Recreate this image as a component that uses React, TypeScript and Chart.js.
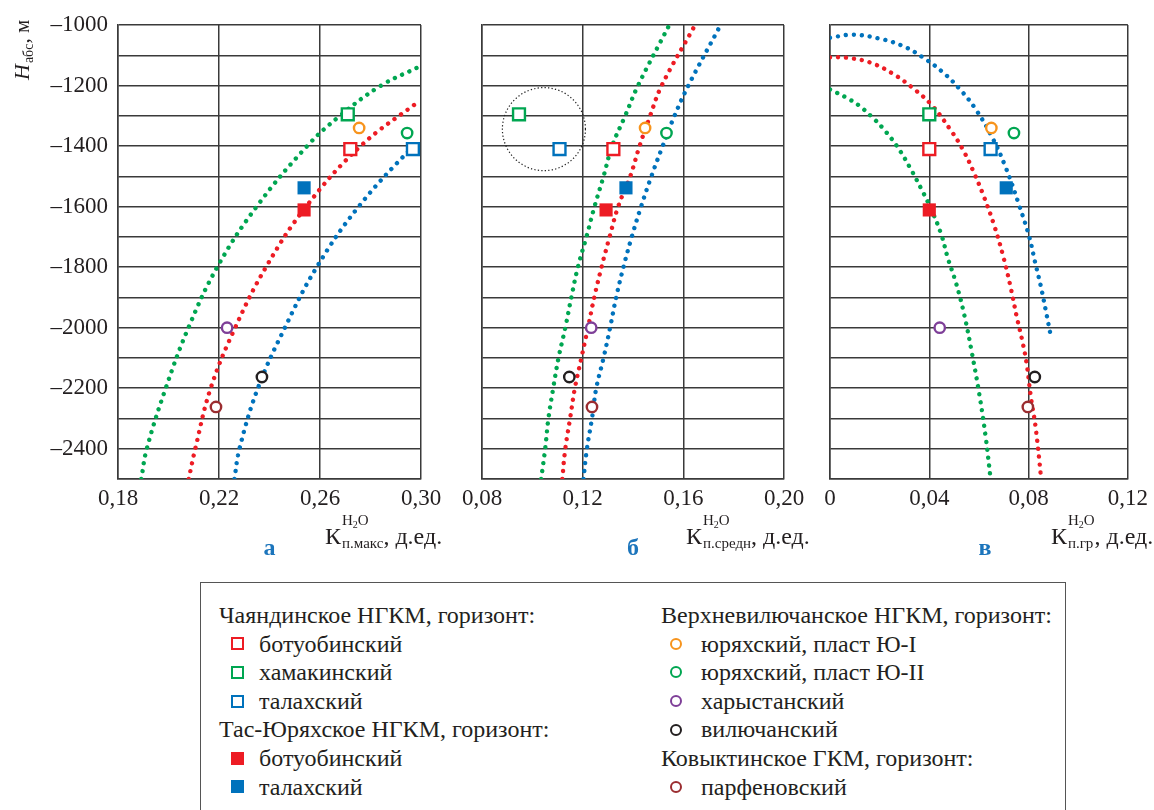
import React, { useEffect, useRef } from 'react';
import { Chart, registerables } from 'chart.js';

Chart.register(...registerables);

// ---------- data ----------
const DEPTH_TICKS = [-2500, -2400, -2300, -2200, -2100, -2000, -1900, -1800, -1700, -1600, -1500, -1400, -1300, -1200, -1100, -1000];
const X_TICKS_A = [0.18, 0.22, 0.26, 0.3];
const X_TICKS_B = [0.08, 0.12, 0.16, 0.2];
const X_TICKS_C = [0, 0.04, 0.08, 0.12];

// point order: Чаянд. ботуоб., Чаянд. хамак., Чаянд. талах., Тас-Юр. ботуоб., Тас-Юр. талах.,
// Ю-I, Ю-II, харыстанский, вилючанский, парфеновский
const H_ABS = [-1410, -1295, -1410, -1611, -1538, -1340, -1357, -2000, -2163, -2262];
const K_MAX = [0.272, 0.271, 0.2968, 0.2537, 0.2537, 0.2755, 0.2945, 0.2232, 0.237, 0.2188];
const K_MEAN = [0.1322, 0.0947, 0.1108, 0.1293, 0.1372, 0.1448, 0.1533, 0.1234, 0.1147, 0.1237];
const K_GR = [0.04, 0.04, 0.0647, 0.04, 0.071, 0.065, 0.0741, 0.0442, 0.0825, 0.0797];

// panel а trend curves
const A_GREEN_X = [0.1892, 0.1914, 0.1989, 0.2079, 0.2193, 0.2349, 0.2549, 0.2679, 0.2842, 0.299];
const A_GREEN_Y = [-2500, -2400, -2200, -2000, -1800, -1600, -1400, -1300, -1200, -1139];
const A_RED_X = [0.208, 0.2106, 0.2167, 0.2264, 0.2386, 0.2545, 0.2761, 0.2995];
const A_RED_Y = [-2500, -2400, -2200, -2000, -1800, -1600, -1400, -1250];
const A_BLUE_X = [0.2261, 0.2281, 0.2354, 0.2461, 0.2587, 0.2753, 0.297, 0.2995];
const A_BLUE_Y = [-2500, -2400, -2200, -2000, -1800, -1600, -1400, -1390];

// panel б trend curves
const B_GREEN_X = [0.1035, 0.1051, 0.1064, 0.1083, 0.1104, 0.1131, 0.1155, 0.1181, 0.1215, 0.1247, 0.1283, 0.1317, 0.1369, 0.142, 0.1541];
const B_GREEN_Y = [-2500, -2400, -2300, -2200, -2100, -2000, -1900, -1800, -1700, -1600, -1500, -1400, -1300, -1200, -1005];
const B_RED_X = [0.1119, 0.1131, 0.115, 0.1169, 0.1195, 0.1221, 0.1246, 0.1275, 0.1307, 0.1341, 0.1389, 0.1426, 0.1468, 0.1514, 0.164];
const B_RED_Y = [-2500, -2400, -2300, -2200, -2100, -2000, -1900, -1800, -1700, -1600, -1500, -1400, -1300, -1200, -1010];
const B_BLUE_X = [0.1203, 0.1217, 0.1237, 0.1254, 0.1283, 0.1309, 0.1333, 0.1362, 0.1395, 0.1432, 0.1473, 0.1518, 0.1565, 0.162, 0.1739];
const B_BLUE_Y = [-2500, -2400, -2300, -2200, -2100, -2000, -1900, -1800, -1700, -1600, -1500, -1400, -1300, -1200, -1014];

// panel в trend curves
const C_BLUE_X = [0, 0.0092, 0.0194, 0.029, 0.0374, 0.0453, 0.0524, 0.0585, 0.0652, 0.0708, 0.0763, 0.0803, 0.0826, 0.0849, 0.0869, 0.0888];
const C_BLUE_Y = [-1042, -1032, -1044, -1068, -1107, -1155, -1213, -1276, -1369, -1471, -1598, -1701, -1783, -1862, -1942, -2021];
const C_RED_X = [0, 0.0066, 0.0162, 0.0251, 0.033, 0.0409, 0.0486, 0.0537, 0.0581, 0.0619, 0.0663, 0.07, 0.073, 0.0752, 0.0774, 0.0792, 0.0809, 0.0828, 0.0851];
const C_RED_Y = [-1107, -1108, -1124, -1160, -1206, -1264, -1347, -1414, -1490, -1565, -1666, -1771, -1875, -1963, -2041, -2118, -2228, -2327, -2500];
const C_GREEN_X = [0, 0.0059, 0.0115, 0.0165, 0.0211, 0.0271, 0.0324, 0.037, 0.0412, 0.0449, 0.0475, 0.0508, 0.0541, 0.0572, 0.0601, 0.0627, 0.0647];
const C_GREEN_Y = [-1213, -1237, -1265, -1301, -1339, -1402, -1474, -1545, -1617, -1694, -1771, -1853, -1958, -2085, -2217, -2360, -2500];

// dotted circle (panel б)
const CIRCLE_CENTER = { x: 0.1046, y: -1344 };
const CIRCLE_RADIUS_X = 0.0165;

// ---------- styles ----------
const RED = '#ED1C24';
const GREEN = '#00A651';
const BLUE = '#0072BC';
const ORANGE = '#F7941D';
const PURPLE = '#7E3F98';
const BLACK = '#231F20';
const BROWN = '#9B2D30';
const GRID = '#3a3a3a';
const TEXT = '#231F20';
const SERIF = "'Liberation Serif', 'DejaVu Serif', 'Noto Serif', serif";

type Marker = 'hollow' | 'filled' | 'circle';
const POINT_COLORS = [RED, GREEN, BLUE, RED, BLUE, ORANGE, GREEN, PURPLE, BLACK, BROWN];
const POINT_KINDS: Marker[] = ['hollow', 'hollow', 'hollow', 'filled', 'filled', 'circle', 'circle', 'circle', 'circle', 'circle'];

const W = 1154;
const H = 560;

type Panel = {
  xMin: number; xMax: number; xTicks: number[]; xs: number[];
  curves: { x: number[]; y: number[]; color: string }[];
  left: number; right: number; showY: boolean;
  sub: string; kOffset: number; letter: string; letterOffset: number;
  circle?: boolean;
};

const PANELS: Panel[] = [
  {
    xMin: 0.18, xMax: 0.3, xTicks: X_TICKS_A, xs: K_MAX,
    curves: [
      { x: A_GREEN_X, y: A_GREEN_Y, color: GREEN },
      { x: A_RED_X, y: A_RED_Y, color: RED },
      { x: A_BLUE_X, y: A_BLUE_Y, color: BLUE },
    ],
    left: 118, right: 421, showY: true, sub: 'п.макс', kOffset: -96, letter: 'а', letterOffset: 0,
  },
  {
    xMin: 0.08, xMax: 0.2, xTicks: X_TICKS_B, xs: K_MEAN,
    curves: [
      { x: B_GREEN_X, y: B_GREEN_Y, color: GREEN },
      { x: B_RED_X, y: B_RED_Y, color: RED },
      { x: B_BLUE_X, y: B_BLUE_Y, color: BLUE },
    ],
    left: 482, right: 784, showY: false, sub: 'п.средн', kOffset: -98, letter: 'б', letterOffset: 0, circle: true,
  },
  {
    xMin: 0, xMax: 0.12, xTicks: X_TICKS_C, xs: K_GR,
    curves: [
      { x: C_GREEN_X, y: C_GREEN_Y, color: GREEN },
      { x: C_RED_X, y: C_RED_Y, color: RED },
      { x: C_BLUE_X, y: C_BLUE_Y, color: BLUE },
    ],
    left: 830, right: 1133, showY: false, sub: 'п.гр', kOffset: -77, letter: 'в', letterOffset: 6,
  },
];

function fmtX(v: number) {
  return v === 0 ? '0' : v.toFixed(2).replace('.', ',');
}

function makeAnnotPlugin(p: Panel) {
  return {
    id: 'annot',
    afterDraw(chart: any) {
      const ctx = chart.ctx as CanvasRenderingContext2D;
      const area = chart.chartArea;
      ctx.save();
      ctx.fillStyle = TEXT;
      ctx.textAlign = 'left';
      ctx.textBaseline = 'alphabetic';
      // x-axis title
      const base = 544;
      let x = area.right + p.kOffset;
      ctx.font = `24px ${SERIF}`;
      ctx.fillText('К', x, base);
      x += ctx.measureText('К').width + 1;
      let sx = x;
      ctx.font = `15px ${SERIF}`;
      ctx.fillText('H', sx, base - 19);
      sx += ctx.measureText('H').width;
      ctx.font = `10px ${SERIF}`;
      ctx.fillText('2', sx, base - 16);
      sx += ctx.measureText('2').width;
      ctx.font = `15px ${SERIF}`;
      ctx.fillText('O', sx, base - 19);
      sx += ctx.measureText('O').width;
      ctx.fillText(p.sub, x, base + 4);
      const subEnd = x + ctx.measureText(p.sub).width;
      x = Math.max(sx, subEnd);
      ctx.font = `24px ${SERIF}`;
      ctx.fillText(', д.ед.', x, base);
      // panel letter
      ctx.font = `bold 24px ${SERIF}`;
      ctx.fillStyle = '#1C75BC';
      ctx.textAlign = 'center';
      ctx.fillText(p.letter, (area.left + area.right) / 2 + p.letterOffset, 555);
      ctx.textAlign = 'left';
      ctx.fillStyle = TEXT;
      // y-axis title
      if (p.showY) {
        ctx.save();
        ctx.translate(29, 80);
        ctx.rotate(-Math.PI / 2);
        let t = 0;
        ctx.font = `italic 22px ${SERIF}`;
        ctx.fillText('H', t, 0);
        t += ctx.measureText('H').width + 1;
        ctx.font = `14px ${SERIF}`;
        ctx.fillText('абс', t, 4);
        t += ctx.measureText('абс').width;
        ctx.font = `21px ${SERIF}`;
        ctx.fillText(', м', t, 0);
        ctx.restore();
      }
      // dotted circle
      if (p.circle) {
        const xs = chart.scales.x;
        const ys = chart.scales.y;
        const cx = xs.getPixelForValue(CIRCLE_CENTER.x);
        const cy = ys.getPixelForValue(CIRCLE_CENTER.y);
        const r = xs.getPixelForValue(CIRCLE_CENTER.x + CIRCLE_RADIUS_X) - cx;
        ctx.beginPath();
        ctx.setLineDash([1.3, 2.2]);
        ctx.lineWidth = 1.2;
        ctx.strokeStyle = '#222';
        ctx.arc(cx, cy, r, 0, Math.PI * 2);
        ctx.stroke();
      }
      ctx.restore();
    },
  };
}

function buildChart(canvas: HTMLCanvasElement, p: Panel) {
  const pointSets = p.xs.map((xv, i) => {
    const kind = POINT_KINDS[i];
    const color = POINT_COLORS[i];
    return {
      type: 'scatter' as const,
      data: [{ x: xv, y: H_ABS[i] }],
      pointStyle: kind === 'circle' ? 'circle' : 'rect',
      pointRadius: kind === 'circle' ? 5.2 : kind === 'filled' ? 9.3 : 8.4,
      pointBorderWidth: kind === 'filled' ? 0 : 2.4,
      pointBorderColor: color,
      pointBackgroundColor: kind === 'filled' ? color : '#ffffff',
      showLine: false,
      clip: false as any,
      order: 0,
    };
  });
  const curveSets = p.curves.map((c) => ({
    type: 'line' as const,
    data: c.x.map((xv, i) => ({ x: xv, y: c.y[i] })),
    borderColor: c.color,
    borderWidth: 4.4,
    borderDash: [0.01, 8],
    borderCapStyle: 'round' as const,
    pointRadius: 0,
    tension: 0.4,
    fill: false,
    order: 1,
  }));
  return new Chart(canvas, {
    type: 'scatter',
    data: { datasets: [...pointSets, ...curveSets] as any },
    options: {
      animation: false,
      responsive: false,
      maintainAspectRatio: false,
      layout: { padding: { left: p.showY ? 0 : p.left, right: W - p.right, top: 25, bottom: 0 } },
      plugins: { legend: { display: false }, tooltip: { enabled: false } },
      scales: {
        x: {
          type: 'linear',
          min: p.xMin,
          max: p.xMax,
          afterBuildTicks: (s: any) => { s.ticks = p.xTicks.map((v) => ({ value: v })); },
          afterFit: (s: any) => { s.height = H - 479; },
          grid: { color: GRID, lineWidth: 1.5, drawTicks: false },
          border: { color: GRID, width: 1.5 },
          ticks: {
            autoSkip: false,
            maxRotation: 0,
            padding: 6,
            color: TEXT,
            font: { family: SERIF, size: 23 },
            callback: (v: any) => fmtX(Number(v)),
          },
        },
        y: {
          type: 'linear',
          min: -2500,
          max: -1000,
          afterBuildTicks: (s: any) => { s.ticks = DEPTH_TICKS.map((v) => ({ value: v })); },
          afterFit: (s: any) => { s.width = p.showY ? p.left : 0; },
          grid: { color: GRID, lineWidth: 1.5, drawTicks: false },
          border: { color: GRID, width: 1.5 },
          ticks: {
            display: p.showY,
            autoSkip: false,
            padding: 10,
            color: TEXT,
            font: { family: SERIF, size: 23 },
            callback: (v: any) => (Number(v) % 200 === 0 ? '–' + Math.abs(Number(v)) : ''),
          },
        },
      },
    } as any,
    plugins: [makeAnnotPlugin(p)],
  });
}

type LegendItem = { kind: Marker | 'header'; color?: string; text: string };
const LEGEND_LEFT: LegendItem[] = [
  { kind: 'header', text: 'Чаяндинское НГКМ, горизонт:' },
  { kind: 'hollow', color: RED, text: 'ботуобинский' },
  { kind: 'hollow', color: GREEN, text: 'хамакинский' },
  { kind: 'hollow', color: BLUE, text: 'талахский' },
  { kind: 'header', text: 'Тас-Юряхское НГКМ, горизонт:' },
  { kind: 'filled', color: RED, text: 'ботуобинский' },
  { kind: 'filled', color: BLUE, text: 'талахский' },
];
const LEGEND_RIGHT: LegendItem[] = [
  { kind: 'header', text: 'Верхневилючанское НГКМ, горизонт:' },
  { kind: 'circle', color: ORANGE, text: 'юряхский, пласт Ю-I' },
  { kind: 'circle', color: GREEN, text: 'юряхский, пласт Ю-II' },
  { kind: 'circle', color: PURPLE, text: 'харыстанский' },
  { kind: 'circle', color: BLACK, text: 'вилючанский' },
  { kind: 'header', text: 'Ковыктинское ГКМ, горизонт:' },
  { kind: 'circle', color: BROWN, text: 'парфеновский' },
];

function MarkerBox({ kind, color }: { kind: Marker; color: string }) {
  const base: React.CSSProperties = { position: 'absolute', boxSizing: 'border-box', top: '50%' };
  if (kind === 'hollow') {
    return <span style={{ ...base, width: 13, height: 13, marginTop: -6.5, left: -6.5, border: `2.6px solid ${color}`, background: '#fff' }} />;
  }
  if (kind === 'filled') {
    return <span style={{ ...base, width: 13, height: 13, marginTop: -6.5, left: -6.5, background: color }} />;
  }
  return <span style={{ ...base, width: 12, height: 12, marginTop: -6, left: -6, border: `2.6px solid ${color}`, borderRadius: '50%' }} />;
}

function LegendColumn({ items, left, markerX, textX }: { items: LegendItem[]; left: number; markerX: number; textX: number }) {
  return (
    <div style={{ position: 'absolute', left: 0, top: 18, width: '100%' }}>
      {items.map((it, i) => (
        <div key={i} style={{ position: 'absolute', top: i * 28.6, height: 28.6, left: 0, width: 420, lineHeight: '28.6px' }}>
          {it.kind === 'header' ? (
            <span style={{ position: 'absolute', left, whiteSpace: 'nowrap' }}>{it.text}</span>
          ) : (
            <>
              <span style={{ position: 'absolute', left: markerX, top: 0, height: '100%' }}>
                <MarkerBox kind={it.kind as Marker} color={it.color as string} />
              </span>
              <span style={{ position: 'absolute', left: textX, whiteSpace: 'nowrap' }}>{it.text}</span>
            </>
          )}
        </div>
      ))}
    </div>
  );
}

export default function App() {
  const refA = useRef<HTMLCanvasElement>(null);
  const refB = useRef<HTMLCanvasElement>(null);
  const refC = useRef<HTMLCanvasElement>(null);

  useEffect(() => {
    const canvases = [refA.current, refB.current, refC.current];
    const charts = canvases.map((c, i) => buildChart(c as HTMLCanvasElement, PANELS[i]));
    return () => charts.forEach((ch) => ch.destroy());
  }, []);

  const canvasStyle: React.CSSProperties = { position: 'absolute', left: 0, top: 0, width: W, height: H };

  return (
    <div style={{ position: 'absolute', left: 0, top: 0, width: W, height: 810, overflow: 'hidden', background: '#fff', fontFamily: SERIF, color: TEXT }}>
      <canvas ref={refA} width={W} height={H} style={canvasStyle} />
      <canvas ref={refB} width={W} height={H} style={canvasStyle} />
      <canvas ref={refC} width={W} height={H} style={canvasStyle} />
      <div style={{ position: 'absolute', left: 200, top: 582, width: 866, height: 260, border: '1.5px solid #555', boxSizing: 'border-box', fontSize: 24 }}>
        <div style={{ position: 'absolute', left: 0, top: 0, width: 430, height: '100%' }}>
          <LegendColumn items={LEGEND_LEFT} left={18} markerX={36} textX={58} />
        </div>
        <div style={{ position: 'absolute', left: 442, top: 0, width: 424, height: '100%' }}>
          <LegendColumn items={LEGEND_RIGHT} left={18} markerX={33} textX={58} />
        </div>
      </div>
    </div>
  );
}
